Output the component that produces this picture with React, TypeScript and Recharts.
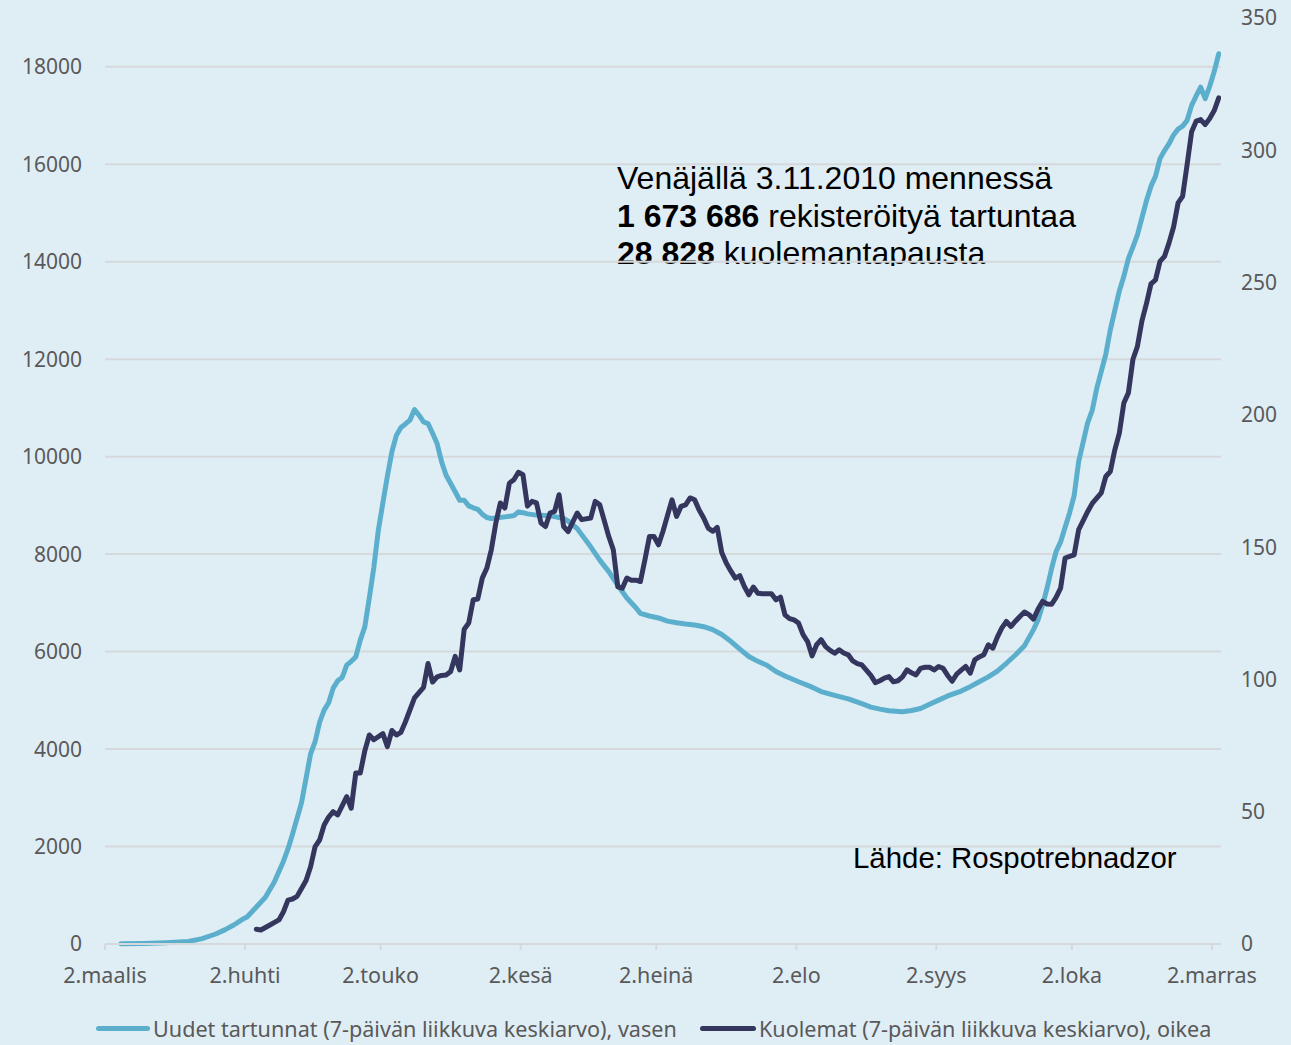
import React from 'react';
import { LineChart, Line, XAxis, YAxis, CartesianGrid } from 'recharts';

// x-axis ticks (days since 2 March 2020) and their labels
const tickDays = [0, 31, 61, 92, 122, 153, 184, 214, 245];
const tickLabels = ['2.maalis', '2.huhti', '2.touko', '2.kesä', '2.heinä', '2.elo', '2.syys', '2.loka', '2.marras'];

const leftTicks = [0, 2000, 4000, 6000, 8000, 10000, 12000, 14000, 16000, 18000];
const rightTicks = [0, 50, 100, 150, 200, 250, 300, 350];

// New cases, 7-day moving average (left axis)
const casesDays = [3, 8, 13, 18, 21, 24, 26, 28, 30, 31, 33, 35, 37, 39, 40, 41, 43, 45, 46, 47, 48, 49, 50, 51, 52, 53, 54, 55, 56, 57, 58, 59, 60, 61, 62, 63, 64, 65, 66, 67, 68, 69, 70, 71, 72, 73, 74, 75, 76, 77, 78, 79, 80, 81, 82, 83, 84, 85, 86, 88, 90, 91, 92, 93, 95, 97, 99, 101, 102, 104, 105, 107, 109, 111, 113, 115, 117, 118, 120, 122, 124, 126, 128, 130, 132, 134, 136, 138, 140, 142, 144, 146, 148, 150, 153, 156, 158, 161, 164, 167, 169, 171, 173, 176, 178, 180, 182, 184, 186, 189, 191, 193, 195, 197, 199, 201, 203, 205, 206, 207, 208, 209, 210, 211, 212, 213, 214, 215, 216, 217, 218, 219, 220, 221, 222, 223, 224, 225, 226, 227, 228, 229, 230, 231, 232, 233, 234, 235, 236, 237, 238, 239, 240, 241, 242, 243, 244, 245, 246];
const casesValues = [5, 10, 25, 50, 110, 205, 290, 390, 510, 560, 760, 960, 1278, 1700, 1950, 2250, 2900, 3900, 4150, 4550, 4800, 4950, 5250, 5400, 5470, 5720, 5800, 5890, 6235, 6508, 7100, 7730, 8491, 9050, 9600, 10100, 10440, 10600, 10670, 10750, 10966, 10850, 10712, 10679, 10480, 10269, 9892, 9619, 9450, 9280, 9106, 9106, 8990, 8950, 8920, 8820, 8750, 8730, 8740, 8764, 8790, 8867, 8850, 8825, 8800, 8790, 8770, 8730, 8680, 8526, 8400, 8149, 7876, 7640, 7360, 7100, 6900, 6783, 6730, 6690, 6625, 6590, 6565, 6545, 6510, 6450, 6350, 6210, 6050, 5900, 5800, 5720, 5590, 5500, 5380, 5270, 5180, 5100, 5030, 4930, 4860, 4820, 4785, 4764, 4790, 4833, 4920, 5004, 5090, 5190, 5280, 5380, 5480, 5600, 5760, 5930, 6120, 6450, 6650, 6950, 7300, 7700, 8050, 8250, 8550, 8850, 9200, 9900, 10300, 10700, 10950, 11400, 11750, 12100, 12600, 13000, 13400, 13700, 14064, 14300, 14550, 14900, 15250, 15550, 15750, 16115, 16280, 16420, 16600, 16720, 16780, 16900, 17207, 17400, 17580, 17344, 17600, 17900, 18267];

// Deaths, 7-day moving average (right axis)
const deathsDays = [33, 34, 36, 38, 39, 40, 41, 42, 43, 44, 45, 46, 47, 48, 49, 50, 51, 53, 54, 55, 56, 57, 58, 59, 61, 62, 63, 64, 65, 66, 68, 69, 70, 71, 72, 73, 74, 75, 76, 77, 78, 79, 80, 81, 82, 83, 84, 85, 86, 87, 88, 89, 90, 91, 92, 93, 94, 95, 96, 97, 98, 99, 100, 101, 102, 104, 105, 107, 108, 109, 110, 111, 112, 113, 114, 115, 116, 117, 118, 119, 120, 121, 122, 123, 124, 125, 126, 127, 128, 129, 130, 131, 132, 133, 134, 135, 136, 137, 138, 139, 140, 141, 142, 143, 144, 145, 146, 147, 148, 149, 150, 151, 152, 153, 154, 155, 156, 157, 158, 159, 160, 161, 162, 163, 164, 165, 166, 167, 168, 169, 170, 171, 172, 173, 174, 175, 176, 177, 178, 179, 180, 181, 182, 183, 184, 185, 186, 187, 188, 189, 190, 191, 192, 193, 194, 195, 196, 197, 198, 199, 200, 201, 202, 203, 204, 205, 206, 207, 208, 209, 210, 211, 212, 213, 214, 215, 216, 217, 218, 219, 220, 221, 222, 223, 224, 225, 226, 227, 228, 229, 230, 231, 232, 233, 234, 235, 236, 237, 238, 239, 240, 241, 242, 243, 244, 245, 246];
const deathsValues = [5.6, 5.3, 7.2, 9.1, 12.2, 16.6, 17, 18, 21, 24, 29.2, 36.8, 39.3, 45, 48, 50, 48.8, 55.7, 51.3, 64.6, 64.6, 73, 79, 77.2, 79.5, 74.6, 80.7, 79, 80, 84, 93, 95, 97, 106, 99, 101, 101.5, 101.7, 103, 108.7, 103.6, 119, 121.3, 130.1, 130.4, 138.3, 142, 149, 159.1, 166.7, 164.8, 174.2, 175.5, 178.3, 177.4, 165.5, 167.3, 166.7, 159.1, 157.8, 162.9, 163.5, 169.8, 157.8, 155.9, 162.9, 160.4, 161, 167.3, 166, 160, 154, 149, 135, 134.5, 138.3, 137.5, 137.5, 137, 145.2, 154, 154, 150.9, 156, 162, 167.9, 161.6, 165.4, 166, 168.6, 167.9, 164, 161, 157.2, 156, 157.5, 148, 144, 141, 138.3, 139.2, 135.1, 132, 134.9, 132.6, 132.4, 132.4, 132.4, 130.1, 131.1, 124.4, 123, 122.5, 121.3, 116.9, 114.3, 108.9, 113.1, 115, 112.4, 111, 109.9, 111.2, 110, 109.3, 107, 106, 105.5, 103.5, 101.5, 98.8, 99.5, 100.5, 101.1, 99.1, 99.5, 101, 103.6, 102.5, 101.7, 104.2, 104.6, 104.6, 103.6, 104.9, 104.2, 101.5, 99.3, 102, 103.5, 104.9, 102.4, 107.4, 108.5, 109.3, 113.1, 111.8, 116, 119.5, 121.9, 120, 122, 123.8, 125.5, 124.5, 122.8, 126.5, 129.5, 128.5, 128.4, 131, 134.5, 145.9, 146.5, 147.1, 156.6, 160, 163.5, 166.5, 168.5, 170.5, 176.7, 178.6, 186.8, 193.1, 204.5, 208.3, 220.9, 225.9, 235.5, 242, 249.5, 251, 258, 259.9, 265, 271, 280.1, 282.6, 294.6, 307, 311, 311.6, 309.7, 312, 315, 319.8];

// Merge into one table keyed by day (points sit in the middle of each day)
const dayMap = new Map<number, { x: number; cases?: number; deaths?: number }>();
casesDays.forEach((d, i) => {
  const r = dayMap.get(d) || { x: d + 0.5 };
  r.cases = casesValues[i];
  dayMap.set(d, r);
});
deathsDays.forEach((d, i) => {
  const r = dayMap.get(d) || { x: d + 0.5 };
  r.deaths = deathsValues[i];
  dayMap.set(d, r);
});
const chartData = Array.from(dayMap.values()).sort((a, b) => a.x - b.x);

const BG = '#dfedf5';
const BLUE = '#5bafcc';
const DARK = '#34365e';
const GRID = '#d6d9db';
const AXIS_TEXT = '#595959';
const UI_FONT = '"Noto Sans", "Open Sans", sans-serif';
const NOTE_FONT = '"Liberation Sans", Arial, sans-serif';

const tickLabelFor = (v: number) => {
  const i = tickDays.indexOf(v);
  return i >= 0 ? tickLabels[i] : '';
};

export default function App() {
  return (
    <div style={{ position: 'absolute', left: 0, top: 0, width: 1291, height: 1045, background: BG, overflow: 'hidden' }}>
      {/* annotation text, drawn beneath the gridlines and clipped at its box bottom */}
      <svg width={1291} height={266} style={{ position: 'absolute', left: 0, top: 0 }}>
        <text x={617} y={189} fontFamily={NOTE_FONT} fontSize={32} fill="#000">Venäjällä 3.11.2010 mennessä</text>
        <text x={617} y={227} fontFamily={NOTE_FONT} fontSize={32} fill="#000">
          <tspan fontWeight="bold">1 673 686</tspan>
          <tspan> rekisteröityä tartuntaa</tspan>
        </text>
        <text x={617} y={264} fontFamily={NOTE_FONT} fontSize={32} fill="#000">
          <tspan fontWeight="bold">28 828</tspan>
          <tspan> kuolemantapausta</tspan>
        </text>
      </svg>
      <svg width={1291} height={1045} style={{ position: 'absolute', left: 0, top: 0 }}>
        <text x={853} y={868} fontFamily={NOTE_FONT} fontSize={29.4} fill="#000">Lähde: Rospotrebnadzor</text>
      </svg>
      <div style={{ position: 'absolute', left: 0, top: 0 }}>
        <LineChart width={1291} height={1045} data={chartData} margin={{ top: 18, right: 10, bottom: 71, left: 25 }}>
          <CartesianGrid
            yAxisId="left"
            vertical={false}
            stroke={GRID}
            strokeWidth={2}
            horizontalValues={leftTicks}
            syncWithTicks
          />
          <XAxis
            dataKey="x"
            type="number"
            domain={[0, 247]}
            ticks={tickDays}
            interval={0}
            tickFormatter={tickLabelFor}
            height={30}
            axisLine={{ stroke: GRID, strokeWidth: 2 }}
            tickLine={{ stroke: GRID, strokeWidth: 2 }}
            tickSize={6}
            tickMargin={18}
            tick={{ fill: AXIS_TEXT, fontSize: 21.5, fontFamily: UI_FONT }}
            allowDataOverflow
          />
          <YAxis
            yAxisId="left"
            domain={[0, 19000]}
            ticks={leftTicks}
            interval={0}
            width={80}
            axisLine={false}
            tickLine={false}
            tickMargin={17}
            tick={{ fill: AXIS_TEXT, fontSize: 21, fontFamily: UI_FONT }}
          />
          <YAxis
            yAxisId="right"
            orientation="right"
            domain={[0, 350]}
            ticks={rightTicks}
            interval={0}
            width={60}
            axisLine={false}
            tickLine={false}
            tickMargin={14}
            tick={{ fill: AXIS_TEXT, fontSize: 21, fontFamily: UI_FONT }}
          />
          <Line
            yAxisId="left"
            dataKey="cases"
            type="linear"
            stroke={BLUE}
            strokeWidth={5}
            dot={false}
            connectNulls
            strokeLinejoin="round"
            strokeLinecap="round"
            isAnimationActive={false}
          />
          <Line
            yAxisId="right"
            dataKey="deaths"
            type="linear"
            stroke={DARK}
            strokeWidth={5}
            dot={false}
            connectNulls
            strokeLinejoin="round"
            strokeLinecap="round"
            isAnimationActive={false}
          />
        </LineChart>
      </div>
      {/* legend */}
      <div style={{ position: 'absolute', left: 96, top: 1014, height: 28, display: 'flex', alignItems: 'center', fontFamily: UI_FONT, fontSize: 21.6, color: AXIS_TEXT, whiteSpace: 'nowrap' }}>
        <span style={{ display: 'inline-block', width: 54, height: 5, borderRadius: 3, background: BLUE, marginRight: 3 }} />
        <span>Uudet tartunnat (7-päivän liikkuva keskiarvo), vasen</span>
      </div>
      <div style={{ position: 'absolute', left: 700, top: 1014, height: 28, display: 'flex', alignItems: 'center', fontFamily: UI_FONT, fontSize: 21.6, color: AXIS_TEXT, whiteSpace: 'nowrap' }}>
        <span style={{ display: 'inline-block', width: 56, height: 5, borderRadius: 3, background: DARK, marginRight: 3 }} />
        <span>Kuolemat (7-päivän liikkuva keskiarvo), oikea</span>
      </div>
    </div>
  );
}
